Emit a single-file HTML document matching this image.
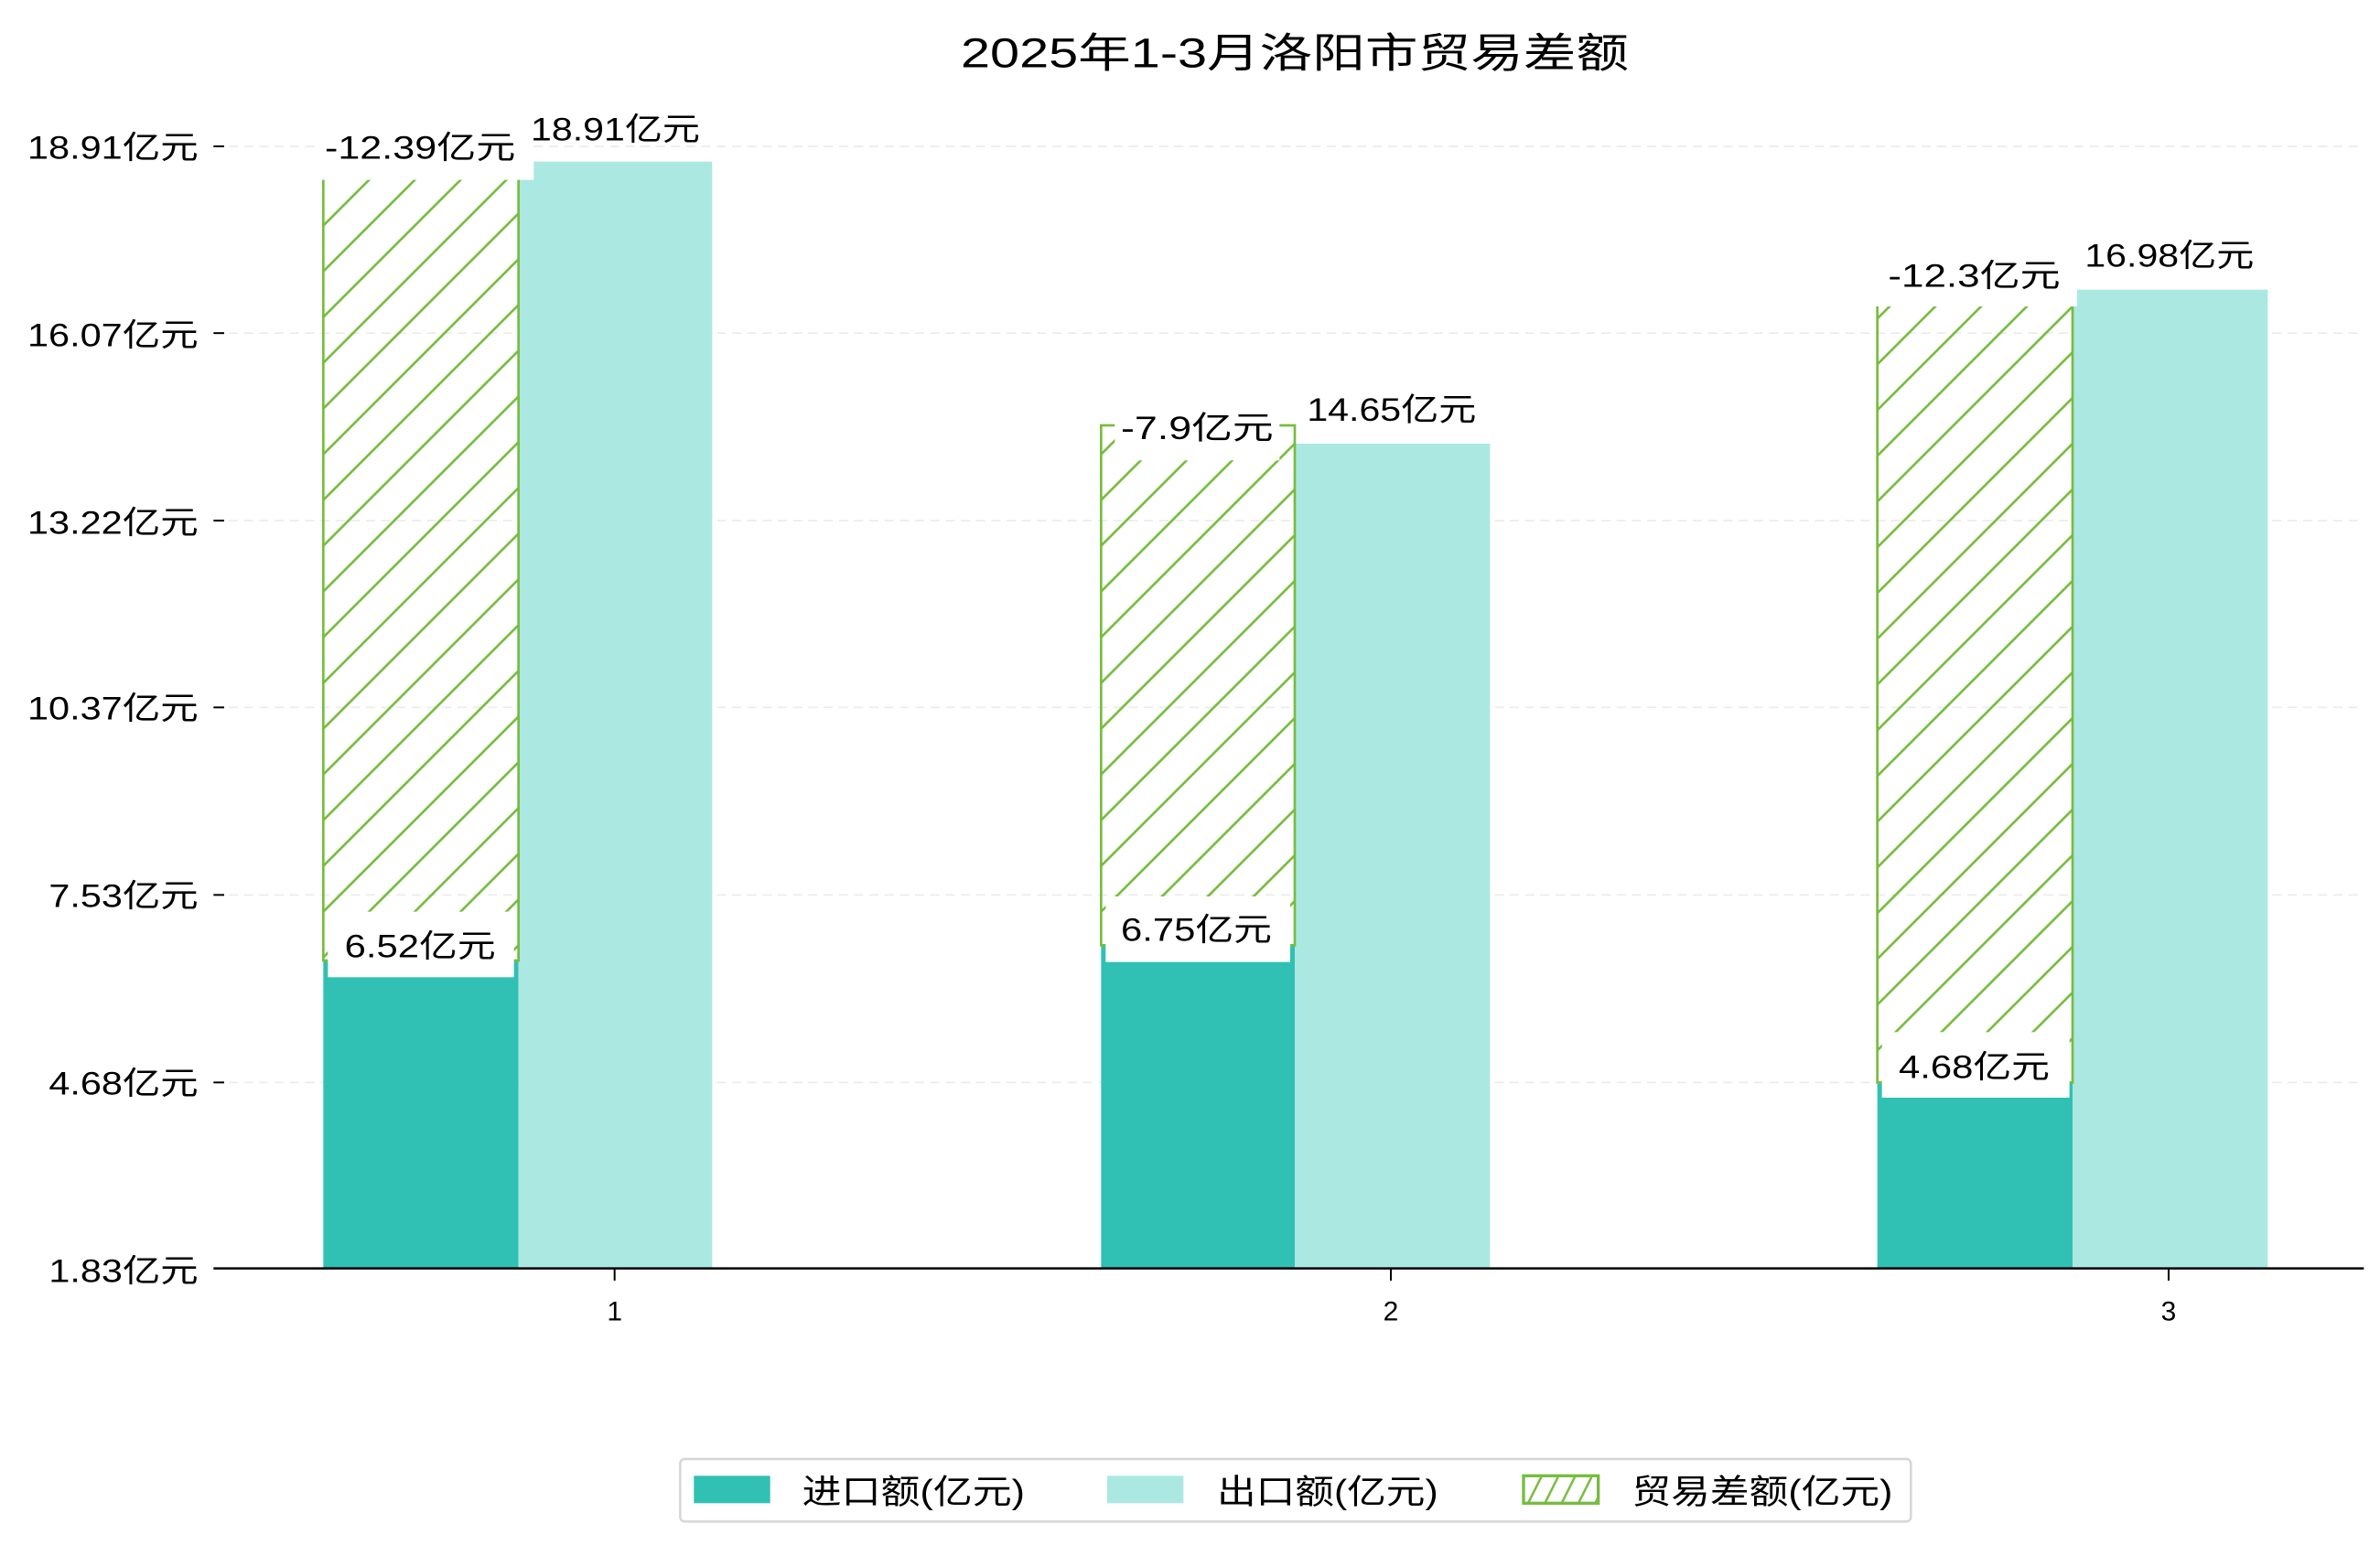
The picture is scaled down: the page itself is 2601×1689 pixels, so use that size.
<!DOCTYPE html>
<html><head><meta charset="utf-8"><style>
html,body{margin:0;padding:0;background:#fff;}
svg{display:block}
text{font-family:"Liberation Sans","Noto Sans CJK SC",sans-serif;fill:#000;}
</style></head><body>
<svg width="2601" height="1689" viewBox="0 0 1560.6 1013.4" preserveAspectRatio="none" xmlns="http://www.w3.org/2000/svg">
<defs>
<pattern id="h" patternUnits="userSpaceOnUse" width="30" height="30">
<path d="M-5,5 L5,-5 M0,30 L30,0 M25,35 L35,25" stroke="#77bc3f" stroke-width="1.6"/>
</pattern>
<pattern id="hl" patternUnits="userSpaceOnUse" width="22" height="22" x="1000">
<path d="M0,22 L11,0 M11,22 L22,0" stroke="#77bc3f" stroke-width="1.5"/>
</pattern>
</defs>
<text x="630" y="44" font-size="27" textLength="438" lengthAdjust="spacingAndGlyphs">2025年1-3月洛阳市贸易差额</text>
<g stroke="#ebebeb" stroke-width="1" stroke-dasharray="6,4">
<line x1="140" x2="1550" y1="96" y2="96"/><line x1="140" x2="1550" y1="218.5" y2="218.5"/>
<line x1="140" x2="1550" y1="341.5" y2="341.5"/><line x1="140" x2="1550" y1="464" y2="464"/>
<line x1="140" x2="1550" y1="587" y2="587"/><line x1="140" x2="1550" y1="710" y2="710"/>
</g>
<g stroke="#000" stroke-width="1.2">
<line x1="140" x2="147" y1="96" y2="96"/><line x1="140" x2="147" y1="218.5" y2="218.5"/>
<line x1="140" x2="147" y1="341.5" y2="341.5"/><line x1="140" x2="147" y1="464" y2="464"/>
<line x1="140" x2="147" y1="587" y2="587"/><line x1="140" x2="147" y1="710" y2="710"/>
<line x1="403" x2="403" y1="832" y2="840"/><line x1="912" x2="912" y1="832" y2="840"/><line x1="1422" x2="1422" y1="832" y2="840"/>
</g>
<g font-size="21" lengthAdjust="spacingAndGlyphs">
<text x="18" y="104" textLength="112" lengthAdjust="spacingAndGlyphs">18.91亿元</text>
<text x="18" y="227" textLength="112" lengthAdjust="spacingAndGlyphs">16.07亿元</text>
<text x="18" y="350" textLength="112" lengthAdjust="spacingAndGlyphs">13.22亿元</text>
<text x="18" y="472" textLength="112" lengthAdjust="spacingAndGlyphs">10.37亿元</text>
<text x="32" y="595" textLength="98" lengthAdjust="spacingAndGlyphs">7.53亿元</text>
<text x="32" y="718" textLength="98" lengthAdjust="spacingAndGlyphs">4.68亿元</text>
<text x="32" y="841" textLength="98" lengthAdjust="spacingAndGlyphs">1.83亿元</text>
</g>
<g font-size="18" text-anchor="middle">
<text x="403" y="866">1</text><text x="912" y="866">2</text><text x="1422" y="866">3</text>
</g>
<rect x="212" y="630" width="128" height="202" fill="#31c0b4"/>
<rect x="722" y="620" width="127" height="212" fill="#31c0b4"/>
<rect x="1231" y="710" width="128" height="122" fill="#31c0b4"/>
<rect x="340" y="106" width="127" height="726" fill="#abe8e2"/>
<rect x="849" y="291" width="128" height="541" fill="#abe8e2"/>
<rect x="1359" y="190" width="128" height="642" fill="#abe8e2"/>
<rect x="212" y="96" width="128" height="534" fill="url(#h)" stroke="#77bc3f" stroke-width="1.6"/>
<rect x="722" y="279" width="127" height="341" fill="url(#h)" stroke="#77bc3f" stroke-width="1.6"/>
<rect x="1231" y="179" width="128" height="531" fill="url(#h)" stroke="#77bc3f" stroke-width="1.6"/>
<g fill="#fff">
<rect x="207" y="80" width="143" height="38"/>
<rect x="731" y="264" width="108" height="38"/>
<rect x="1229" y="164" width="133" height="37"/>
<rect x="215" y="598" width="122" height="43"/>
<rect x="725" y="588" width="121" height="43"/>
<rect x="1234" y="677" width="123" height="43"/>
</g>
<g font-size="21">
<text x="213" y="104" textLength="125" lengthAdjust="spacingAndGlyphs">-12.39亿元</text>
<text x="735" y="288" textLength="100" lengthAdjust="spacingAndGlyphs">-7.9亿元</text>
<text x="1238" y="188" textLength="113" lengthAdjust="spacingAndGlyphs">-12.3亿元</text>
<text x="226" y="628" textLength="99" lengthAdjust="spacingAndGlyphs">6.52亿元</text>
<text x="735" y="617" textLength="99" lengthAdjust="spacingAndGlyphs">6.75亿元</text>
<text x="1245" y="707" textLength="99" lengthAdjust="spacingAndGlyphs">4.68亿元</text>
<text x="348" y="92" textLength="111" lengthAdjust="spacingAndGlyphs">18.91亿元</text>
<text x="857" y="276" textLength="111" lengthAdjust="spacingAndGlyphs">14.65亿元</text>
<text x="1367" y="175" textLength="111" lengthAdjust="spacingAndGlyphs">16.98亿元</text>
</g>
<line x1="140" x2="1550" y1="832" y2="832" stroke="#000" stroke-width="1.5"/>
<rect x="446" y="957" width="807" height="41" rx="3" fill="#fff" stroke="#d6d6d6" stroke-width="1.5"/>
<rect x="455" y="968" width="50" height="18" fill="#31c0b4"/>
<text x="526" y="986" font-size="22" textLength="146" lengthAdjust="spacingAndGlyphs">进口额(亿元)</text>
<rect x="726" y="968" width="50" height="18" fill="#abe8e2"/>
<text x="798" y="986" font-size="22" textLength="145" lengthAdjust="spacingAndGlyphs">出口额(亿元)</text>
<rect x="999" y="968" width="49" height="18" fill="url(#hl)" stroke="#77bc3f" stroke-width="2"/>
<text x="1070" y="986" font-size="22" textLength="171" lengthAdjust="spacingAndGlyphs">贸易差额(亿元)</text>
</svg>
</body></html>
